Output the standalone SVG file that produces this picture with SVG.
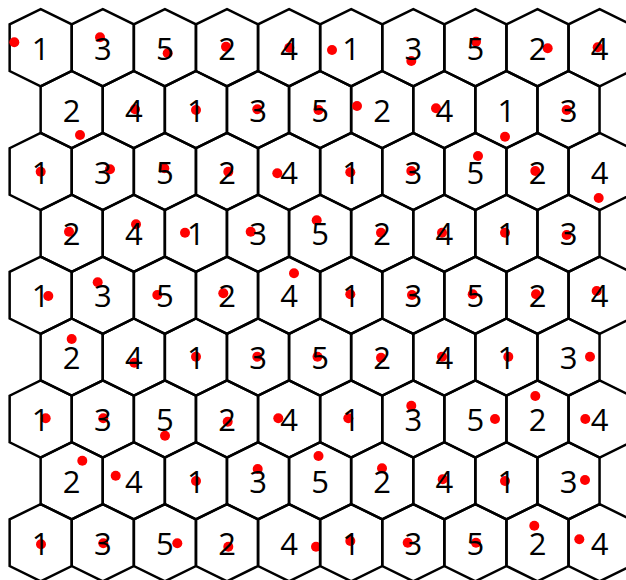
<svg xmlns="http://www.w3.org/2000/svg" xmlns:xlink="http://www.w3.org/1999/xlink" width="626" height="580" viewBox="0 0 626 580">
<style>
.hex{fill:none;stroke:#000;stroke-width:2.5;stroke-linejoin:miter}
.lbl{font-family:"Open Sans","Noto Sans","Liberation Sans",sans-serif;font-size:31px;fill:#000;text-anchor:middle}
.dot{fill:#ff0000}
</style>
<defs>
<polygon id="hex" class="hex" points="0,-38.6 31.05,-23.3 31.05,23.3 0,38.6 -31.05,23.3 -31.05,-23.3"/>
</defs>
<rect width="626" height="580" fill="#fff"/>
<g id="connectors"/>
<g id="cells">
<!-- row 0 -->
<g id="h0-0"><use href="#hex" x="40.7" y="47.7"/><circle class="dot" cx="14.3" cy="42.3" r="5"/><text class="lbl" x="40.7" y="59.7">1</text></g>
<g id="h0-1"><use href="#hex" x="102.8" y="47.7"/><circle class="dot" cx="100" cy="37.3" r="5"/><text class="lbl" x="102.8" y="59.7">3</text></g>
<g id="h0-2"><use href="#hex" x="164.9" y="47.7"/><circle class="dot" cx="167.7" cy="53.3" r="5"/><text class="lbl" x="164.9" y="59.7">5</text></g>
<g id="h0-3"><use href="#hex" x="227" y="47.7"/><circle class="dot" cx="226" cy="46.7" r="5"/><text class="lbl" x="227" y="59.7">2</text></g>
<g id="h0-4"><use href="#hex" x="289.1" y="47.7"/><circle class="dot" cx="289.3" cy="47.7" r="5"/><text class="lbl" x="289.1" y="59.7">4</text></g>
<g id="h0-5"><use href="#hex" x="351.2" y="47.7"/><circle class="dot" cx="332" cy="50" r="5"/><text class="lbl" x="351.2" y="59.7">1</text></g>
<g id="h0-6"><use href="#hex" x="413.3" y="47.7"/><circle class="dot" cx="411.3" cy="61" r="5"/><text class="lbl" x="413.3" y="59.7">3</text></g>
<g id="h0-7"><use href="#hex" x="475.4" y="47.7"/><circle class="dot" cx="476" cy="41.7" r="5"/><text class="lbl" x="475.4" y="59.7">5</text></g>
<g id="h0-8"><use href="#hex" x="537.5" y="47.7"/><circle class="dot" cx="547.7" cy="48.3" r="5"/><text class="lbl" x="537.5" y="59.7">2</text></g>
<g id="h0-9"><use href="#hex" x="599.6" y="47.7"/><circle class="dot" cx="597.7" cy="47.3" r="5"/><text class="lbl" x="599.6" y="59.7">4</text></g>
<!-- row 1 -->
<g id="h1-0"><use href="#hex" x="71.7" y="109.6"/><circle class="dot" cx="80" cy="135" r="5"/><text class="lbl" x="71.7" y="121.6">2</text></g>
<g id="h1-1"><use href="#hex" x="133.8" y="109.6"/><circle class="dot" cx="135" cy="109.3" r="5"/><text class="lbl" x="133.8" y="121.6">4</text></g>
<g id="h1-2"><use href="#hex" x="195.9" y="109.6"/><circle class="dot" cx="196" cy="110" r="5"/><text class="lbl" x="195.9" y="121.6">1</text></g>
<g id="h1-3"><use href="#hex" x="258" y="109.6"/><circle class="dot" cx="257.3" cy="109.3" r="5"/><text class="lbl" x="258" y="121.6">3</text></g>
<g id="h1-4"><use href="#hex" x="320.1" y="109.6"/><circle class="dot" cx="318.5" cy="110" r="5"/><text class="lbl" x="320.1" y="121.6">5</text></g>
<g id="h1-5"><use href="#hex" x="382.2" y="109.6"/><circle class="dot" cx="357" cy="106" r="5"/><text class="lbl" x="382.2" y="121.6">2</text></g>
<g id="h1-6"><use href="#hex" x="444.3" y="109.6"/><circle class="dot" cx="436" cy="108.3" r="5"/><text class="lbl" x="444.3" y="121.6">4</text></g>
<g id="h1-7"><use href="#hex" x="506.4" y="109.6"/><circle class="dot" cx="505" cy="136.7" r="5"/><text class="lbl" x="506.4" y="121.6">1</text></g>
<g id="h1-8"><use href="#hex" x="568.5" y="109.6"/><circle class="dot" cx="566.7" cy="110" r="5"/><text class="lbl" x="568.5" y="121.6">3</text></g>
<!-- row 2 -->
<g id="h2-0"><use href="#hex" x="40.7" y="171.5"/><circle class="dot" cx="40.7" cy="171.7" r="5"/><text class="lbl" x="40.7" y="183.5">1</text></g>
<g id="h2-1"><use href="#hex" x="102.8" y="171.5"/><circle class="dot" cx="110" cy="169.3" r="5"/><text class="lbl" x="102.8" y="183.5">3</text></g>
<g id="h2-2"><use href="#hex" x="164.9" y="171.5"/><circle class="dot" cx="164.3" cy="168.3" r="5"/><text class="lbl" x="164.9" y="183.5">5</text></g>
<g id="h2-3"><use href="#hex" x="227" y="171.5"/><circle class="dot" cx="228.3" cy="171.7" r="5"/><text class="lbl" x="227" y="183.5">2</text></g>
<g id="h2-4"><use href="#hex" x="289.1" y="171.5"/><circle class="dot" cx="277.3" cy="173.3" r="5"/><text class="lbl" x="289.1" y="183.5">4</text></g>
<g id="h2-5"><use href="#hex" x="351.2" y="171.5"/><circle class="dot" cx="350.3" cy="172.3" r="5"/><text class="lbl" x="351.2" y="183.5">1</text></g>
<g id="h2-6"><use href="#hex" x="413.3" y="171.5"/><circle class="dot" cx="411.3" cy="171" r="5"/><text class="lbl" x="413.3" y="183.5">3</text></g>
<g id="h2-7"><use href="#hex" x="475.4" y="171.5"/><circle class="dot" cx="478" cy="156" r="5"/><text class="lbl" x="475.4" y="183.5">5</text></g>
<g id="h2-8"><use href="#hex" x="537.5" y="171.5"/><circle class="dot" cx="535.3" cy="171" r="5"/><text class="lbl" x="537.5" y="183.5">2</text></g>
<g id="h2-9"><use href="#hex" x="599.6" y="171.5"/><circle class="dot" cx="598.7" cy="198" r="5"/><text class="lbl" x="599.6" y="183.5">4</text></g>
<!-- row 3 -->
<g id="h3-0"><use href="#hex" x="71.7" y="233.3"/><circle class="dot" cx="69" cy="231.7" r="5"/><text class="lbl" x="71.7" y="245.3">2</text></g>
<g id="h3-1"><use href="#hex" x="133.8" y="233.3"/><circle class="dot" cx="136" cy="224.3" r="5"/><text class="lbl" x="133.8" y="245.3">4</text></g>
<g id="h3-2"><use href="#hex" x="195.9" y="233.3"/><circle class="dot" cx="185" cy="232.7" r="5"/><text class="lbl" x="195.9" y="245.3">1</text></g>
<g id="h3-3"><use href="#hex" x="258" y="233.3"/><circle class="dot" cx="250.7" cy="231.7" r="5"/><text class="lbl" x="258" y="245.3">3</text></g>
<g id="h3-4"><use href="#hex" x="320.1" y="233.3"/><circle class="dot" cx="316.7" cy="220.3" r="5"/><text class="lbl" x="320.1" y="245.3">5</text></g>
<g id="h3-5"><use href="#hex" x="382.2" y="233.3"/><circle class="dot" cx="381" cy="232.7" r="5"/><text class="lbl" x="382.2" y="245.3">2</text></g>
<g id="h3-6"><use href="#hex" x="444.3" y="233.3"/><circle class="dot" cx="442" cy="232.7" r="5"/><text class="lbl" x="444.3" y="245.3">4</text></g>
<g id="h3-7"><use href="#hex" x="506.4" y="233.3"/><circle class="dot" cx="505" cy="232.7" r="5"/><text class="lbl" x="506.4" y="245.3">1</text></g>
<g id="h3-8"><use href="#hex" x="568.5" y="233.3"/><circle class="dot" cx="566.7" cy="235" r="5"/><text class="lbl" x="568.5" y="245.3">3</text></g>
<!-- row 4 -->
<g id="h4-0"><use href="#hex" x="40.7" y="295.2"/><circle class="dot" cx="48.3" cy="296" r="5"/><text class="lbl" x="40.7" y="307.2">1</text></g>
<g id="h4-1"><use href="#hex" x="102.8" y="295.2"/><circle class="dot" cx="97.7" cy="282.3" r="5"/><text class="lbl" x="102.8" y="307.2">3</text></g>
<g id="h4-2"><use href="#hex" x="164.9" y="295.2"/><circle class="dot" cx="157.3" cy="295" r="5"/><text class="lbl" x="164.9" y="307.2">5</text></g>
<g id="h4-3"><use href="#hex" x="227" y="295.2"/><circle class="dot" cx="223.3" cy="293.3" r="5"/><text class="lbl" x="227" y="307.2">2</text></g>
<g id="h4-4"><use href="#hex" x="289.1" y="295.2"/><circle class="dot" cx="294" cy="273.3" r="5"/><text class="lbl" x="289.1" y="307.2">4</text></g>
<g id="h4-5"><use href="#hex" x="351.2" y="295.2"/><circle class="dot" cx="350.3" cy="294.3" r="5"/><text class="lbl" x="351.2" y="307.2">1</text></g>
<g id="h4-6"><use href="#hex" x="413.3" y="295.2"/><circle class="dot" cx="412" cy="295" r="5"/><text class="lbl" x="413.3" y="307.2">3</text></g>
<g id="h4-7"><use href="#hex" x="475.4" y="295.2"/><circle class="dot" cx="472.7" cy="294.3" r="5"/><text class="lbl" x="475.4" y="307.2">5</text></g>
<g id="h4-8"><use href="#hex" x="537.5" y="295.2"/><circle class="dot" cx="536" cy="294.3" r="5"/><text class="lbl" x="537.5" y="307.2">2</text></g>
<g id="h4-9"><use href="#hex" x="599.6" y="295.2"/><circle class="dot" cx="596.7" cy="291" r="5"/><text class="lbl" x="599.6" y="307.2">4</text></g>
<!-- row 5 -->
<g id="h5-0"><use href="#hex" x="71.7" y="357.1"/><circle class="dot" cx="71.7" cy="339" r="5"/><text class="lbl" x="71.7" y="369.1">2</text></g>
<g id="h5-1"><use href="#hex" x="133.8" y="357.1"/><circle class="dot" cx="134.3" cy="362.7" r="5"/><text class="lbl" x="133.8" y="369.1">4</text></g>
<g id="h5-2"><use href="#hex" x="195.9" y="357.1"/><circle class="dot" cx="196" cy="356.7" r="5"/><text class="lbl" x="195.9" y="369.1">1</text></g>
<g id="h5-3"><use href="#hex" x="258" y="357.1"/><circle class="dot" cx="257.3" cy="356.7" r="5"/><text class="lbl" x="258" y="369.1">3</text></g>
<g id="h5-4"><use href="#hex" x="320.1" y="357.1"/><circle class="dot" cx="317.5" cy="356.7" r="5"/><text class="lbl" x="320.1" y="369.1">5</text></g>
<g id="h5-5"><use href="#hex" x="382.2" y="357.1"/><circle class="dot" cx="381" cy="357.7" r="5"/><text class="lbl" x="382.2" y="369.1">2</text></g>
<g id="h5-6"><use href="#hex" x="444.3" y="357.1"/><circle class="dot" cx="442" cy="356.7" r="5"/><text class="lbl" x="444.3" y="369.1">4</text></g>
<g id="h5-7"><use href="#hex" x="506.4" y="357.1"/><circle class="dot" cx="508.3" cy="356.7" r="5"/><text class="lbl" x="506.4" y="369.1">1</text></g>
<g id="h5-8"><use href="#hex" x="568.5" y="357.1"/><circle class="dot" cx="590" cy="356.7" r="5"/><text class="lbl" x="568.5" y="369.1">3</text></g>
<!-- row 6 -->
<g id="h6-0"><use href="#hex" x="40.7" y="419"/><circle class="dot" cx="45.7" cy="418.3" r="5"/><text class="lbl" x="40.7" y="431">1</text></g>
<g id="h6-1"><use href="#hex" x="102.8" y="419"/><circle class="dot" cx="103.3" cy="418.3" r="5"/><text class="lbl" x="102.8" y="431">3</text></g>
<g id="h6-2"><use href="#hex" x="164.9" y="419"/><circle class="dot" cx="165" cy="435.7" r="5"/><text class="lbl" x="164.9" y="431">5</text></g>
<g id="h6-3"><use href="#hex" x="227" y="419"/><circle class="dot" cx="227.7" cy="421.7" r="5"/><text class="lbl" x="227" y="431">2</text></g>
<g id="h6-4"><use href="#hex" x="289.1" y="419"/><circle class="dot" cx="278.3" cy="418.3" r="5"/><text class="lbl" x="289.1" y="431">4</text></g>
<g id="h6-5"><use href="#hex" x="351.2" y="419"/><circle class="dot" cx="348.3" cy="418.3" r="5"/><text class="lbl" x="351.2" y="431">1</text></g>
<g id="h6-6"><use href="#hex" x="413.3" y="419"/><circle class="dot" cx="411.3" cy="405.7" r="5"/><text class="lbl" x="413.3" y="431">3</text></g>
<g id="h6-7"><use href="#hex" x="475.4" y="419"/><circle class="dot" cx="495" cy="419" r="5"/><text class="lbl" x="475.4" y="431">5</text></g>
<g id="h6-8"><use href="#hex" x="537.5" y="419"/><circle class="dot" cx="535.3" cy="396" r="5"/><text class="lbl" x="537.5" y="431">2</text></g>
<g id="h6-9"><use href="#hex" x="599.6" y="419"/><circle class="dot" cx="585.3" cy="419" r="5"/><text class="lbl" x="599.6" y="431">4</text></g>
<!-- row 7 -->
<g id="h7-0"><use href="#hex" x="71.7" y="480.8"/><circle class="dot" cx="82.3" cy="460.7" r="5"/><text class="lbl" x="71.7" y="492.8">2</text></g>
<g id="h7-1"><use href="#hex" x="133.8" y="480.8"/><circle class="dot" cx="115.7" cy="475.7" r="5"/><text class="lbl" x="133.8" y="492.8">4</text></g>
<g id="h7-2"><use href="#hex" x="195.9" y="480.8"/><circle class="dot" cx="196" cy="481" r="5"/><text class="lbl" x="195.9" y="492.8">1</text></g>
<g id="h7-3"><use href="#hex" x="258" y="480.8"/><circle class="dot" cx="257.7" cy="469" r="5"/><text class="lbl" x="258" y="492.8">3</text></g>
<g id="h7-4"><use href="#hex" x="320.1" y="480.8"/><circle class="dot" cx="318.5" cy="456" r="5"/><text class="lbl" x="320.1" y="492.8">5</text></g>
<g id="h7-5"><use href="#hex" x="382.2" y="480.8"/><circle class="dot" cx="382" cy="468.3" r="5"/><text class="lbl" x="382.2" y="492.8">2</text></g>
<g id="h7-6"><use href="#hex" x="444.3" y="480.8"/><circle class="dot" cx="442.7" cy="479.3" r="5"/><text class="lbl" x="444.3" y="492.8">4</text></g>
<g id="h7-7"><use href="#hex" x="506.4" y="480.8"/><circle class="dot" cx="505" cy="481" r="5"/><text class="lbl" x="506.4" y="492.8">1</text></g>
<g id="h7-8"><use href="#hex" x="568.5" y="480.8"/><circle class="dot" cx="585" cy="480" r="5"/><text class="lbl" x="568.5" y="492.8">3</text></g>
<!-- row 8 -->
<g id="h8-0"><use href="#hex" x="40.7" y="542.7"/><circle class="dot" cx="41" cy="544.3" r="5"/><text class="lbl" x="40.7" y="554.7">1</text></g>
<g id="h8-1"><use href="#hex" x="102.8" y="542.7"/><circle class="dot" cx="103.3" cy="543.3" r="5"/><text class="lbl" x="102.8" y="554.7">3</text></g>
<g id="h8-2"><use href="#hex" x="164.9" y="542.7"/><circle class="dot" cx="177.3" cy="543.3" r="5"/><text class="lbl" x="164.9" y="554.7">5</text></g>
<g id="h8-3"><use href="#hex" x="227" y="542.7"/><circle class="dot" cx="228.3" cy="546.7" r="5"/><text class="lbl" x="227" y="554.7">2</text></g>
<g id="h8-4"><use href="#hex" x="289.1" y="542.7"/><circle class="dot" cx="316" cy="546.7" r="5"/><text class="lbl" x="289.1" y="554.7">4</text></g>
<g id="h8-5"><use href="#hex" x="351.2" y="542.7"/><circle class="dot" cx="350.3" cy="541" r="5"/><text class="lbl" x="351.2" y="554.7">1</text></g>
<g id="h8-6"><use href="#hex" x="413.3" y="542.7"/><circle class="dot" cx="407.7" cy="542.7" r="5"/><text class="lbl" x="413.3" y="554.7">3</text></g>
<g id="h8-7"><use href="#hex" x="475.4" y="542.7"/><circle class="dot" cx="476" cy="542.7" r="5"/><text class="lbl" x="475.4" y="554.7">5</text></g>
<g id="h8-8"><use href="#hex" x="537.5" y="542.7"/><circle class="dot" cx="534.3" cy="525.7" r="5"/><text class="lbl" x="537.5" y="554.7">2</text></g>
<g id="h8-9"><use href="#hex" x="599.6" y="542.7"/><circle class="dot" cx="579.3" cy="539.3" r="5"/><text class="lbl" x="599.6" y="554.7">4</text></g>
</g>
</svg>
